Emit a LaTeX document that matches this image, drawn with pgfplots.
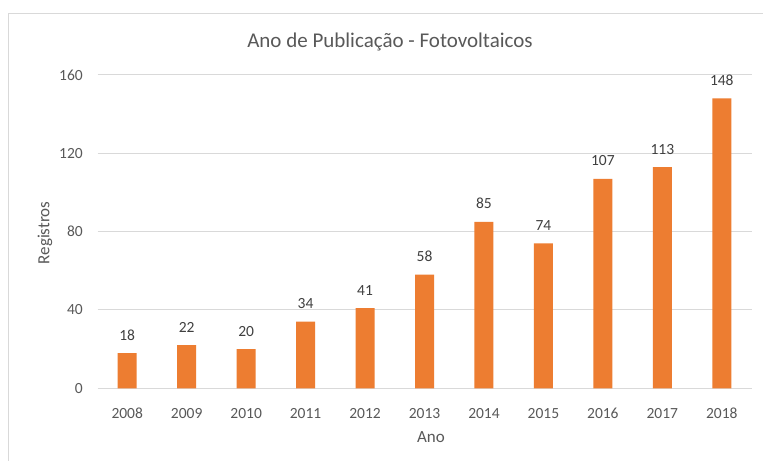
\documentclass[border=0pt]{standalone}
\usepackage{pgfplots}
\pgfplotsset{compat=1.18}
\usepackage{fontspec}
\setmainfont{Carlito}
\definecolor{barorange}{HTML}{ED7D31}
\definecolor{txt}{HTML}{595959}
\definecolor{lbl}{HTML}{404040}
\definecolor{gridc}{HTML}{D9D9D9}
\begin{document}
\begin{tikzpicture}[x=1bp,y=1bp]
\path[use as bounding box] (0,0) rectangle (763,461);
\fill[white] (0,0) rectangle (763,461);
\draw[gridc, line width=1bp] (8,-5) -- (8,447.7) -- (770,447.7);
\begin{axis}[
  at={(97.5bp,72.7bp)}, anchor=south west,
  scale only axis, width=654bp, height=313.3bp,
  xmin=-0.5, xmax=10.5, ymin=0, ymax=160,
  ytick={0,40,80,120,160},
  xtick={0,...,10},
  xticklabels={2008,2009,2010,2011,2012,2013,2014,2015,2016,2017,2018},
  ymajorgrids, grid style={gridc, line width=1bp},
  axis line style={draw=none}, tick style={draw=none},
  ticklabel style={font=\fontsize{15.5bp}{18bp}\selectfont, text=txt},
  xticklabel style={anchor=center, yshift=-21bp},
  yticklabel style={anchor=east, inner sep=0pt, xshift=-14.5bp},
  /pgf/number format/assume math mode=true,
  ybar, bar width=19bp,
  nodes near coords,
  nodes near coords style={anchor=base, yshift=13bp, font=\fontsize{15.5bp}{18bp}\selectfont, text=lbl},
  clip=false,
]
\addplot[fill=barorange, draw=none] coordinates {
(0,18) (1,22) (2,20) (3,34) (4,41) (5,58) (6,85) (7,74) (8,107) (9,113) (10,148)};
\end{axis}
\node[text=txt, font=\fontsize{21bp}{24bp}\selectfont] at (390,419) {Ano de Publicação - Fotovoltaicos};
\node[text=txt, font=\fontsize{17bp}{20bp}\selectfont, rotate=90] at (45,228) {Registros};
\node[text=txt, font=\fontsize{17bp}{20bp}\selectfont] at (431,24) {Ano};
\end{tikzpicture}
\end{document}
